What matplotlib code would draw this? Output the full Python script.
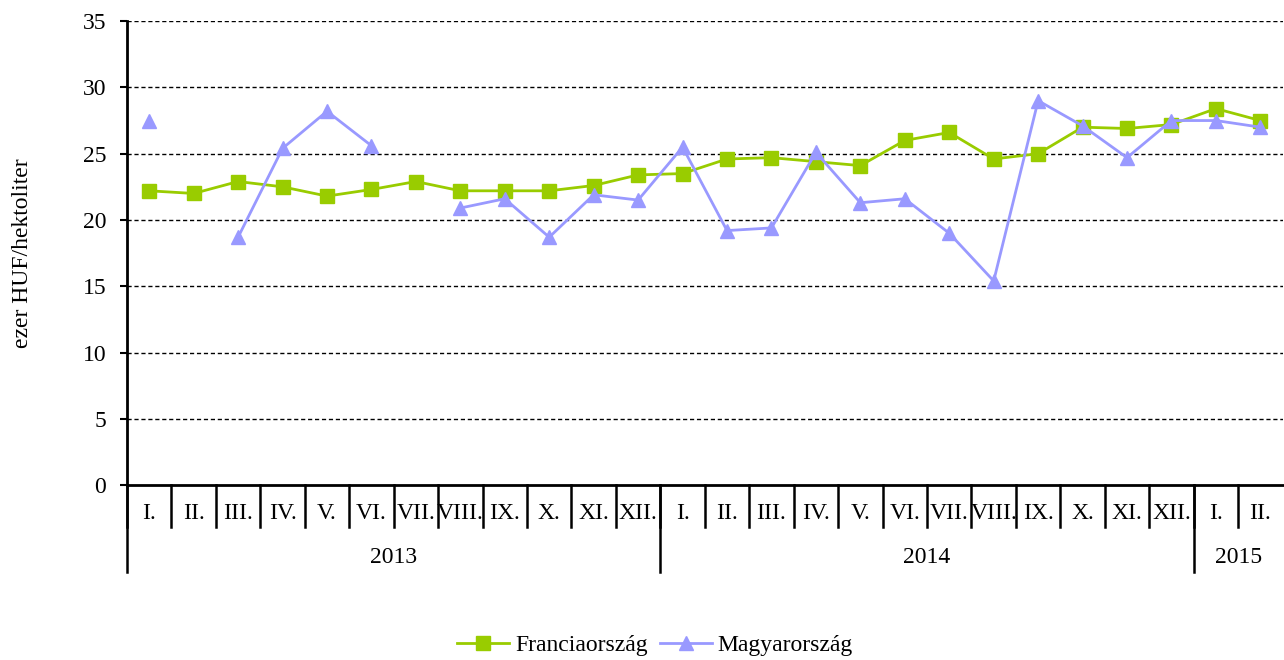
import numpy as np
import matplotlib.pyplot as plt
from matplotlib.transforms import blended_transform_factory

plt.rcParams['font.family'] = ['Liberation Serif', 'DejaVu Serif']

# hónapok és évek
honapok = ['I.', 'II.', 'III.', 'IV.', 'V.', 'VI.', 'VII.', 'VIII.', 'IX.', 'X.', 'XI.', 'XII.',
           'I.', 'II.', 'III.', 'IV.', 'V.', 'VI.', 'VII.', 'VIII.', 'IX.', 'X.', 'XI.', 'XII.',
           'I.', 'II.']
evek = ['2013', '2014', '2015']
ev_honapszam = [12, 12, 2]

# ezer HUF/hektoliter
francia = [22.2, 22.0, 22.9, 22.5, 21.8, 22.3, 22.9, 22.2, 22.2, 22.2, 22.6, 23.4,
           23.5, 24.6, 24.7, 24.4, 24.1, 26.0, 26.6, 24.6, 25.0, 27.0, 26.9, 27.2,
           28.4, 27.5]
magyar = [27.5, np.nan, 18.7, 25.4, 28.2, 25.6, np.nan, 20.9, 21.6, 18.7, 21.9, 21.5,
          25.5, 19.2, 19.4, 25.1, 21.3, 21.6, 19.0, 15.4, 29.0, 27.1, 24.7, 27.5,
          27.5, 27.0]

fs = 17

fig = plt.figure(figsize=(12.84, 6.6), dpi=100)
ax = fig.add_axes([0.0989, 0.265, 0.9, 0.703])

x = np.arange(len(honapok)) + 0.5
ax.plot(x, francia, color='#99CC00', lw=2, marker='s', markersize=10,
        label='Franciaország', zorder=3)
ax.plot(x, magyar, color='#9999FF', lw=2, marker='^', markersize=10.5,
        label='Magyarország', zorder=4)

ax.set_xlim(0, len(honapok))
ax.set_ylim(0, 35)
ax.set_yticks(range(0, 36, 5))
ax.tick_params(axis='y', labelsize=fs, direction='out', length=5, width=1.5, pad=10)
ax.set_xticks([])
for y in range(5, 36, 5):
    ax.axhline(y, color='black', lw=1, ls=(0, (3, 2)), zorder=1)

for s in ['top', 'right']:
    ax.spines[s].set_visible(False)
ax.spines['left'].set_linewidth(2)
ax.spines['bottom'].set_linewidth(2)

ax.set_ylabel('ezer HUF/hektoliter', fontsize=fs, labelpad=36)

# kategória tengely: hónapok és évek
tr = blended_transform_factory(ax.transData, ax.transAxes)
for i, h in enumerate(honapok):
    ax.text(i + 0.5, -0.062, h, transform=tr, ha='center', va='center', fontsize=fs)
    ax.plot([i, i], [0, -0.09], transform=tr, color='black', lw=1.8, clip_on=False)

start = 0
for ev, n in zip(evek, ev_honapszam):
    ax.plot([start, start], [0, -0.188], transform=tr, color='black', lw=1.8, clip_on=False)
    ax.text(start + n / 2, -0.155, ev, transform=tr, ha='center', va='center', fontsize=fs)
    start += n

ax.legend(loc='center', bbox_to_anchor=(0.457, -0.345), ncol=2, frameon=False,
          fontsize=fs, handlelength=2.2, handletextpad=0.25, columnspacing=0.5)

fig.savefig('out.png', dpi=100)
